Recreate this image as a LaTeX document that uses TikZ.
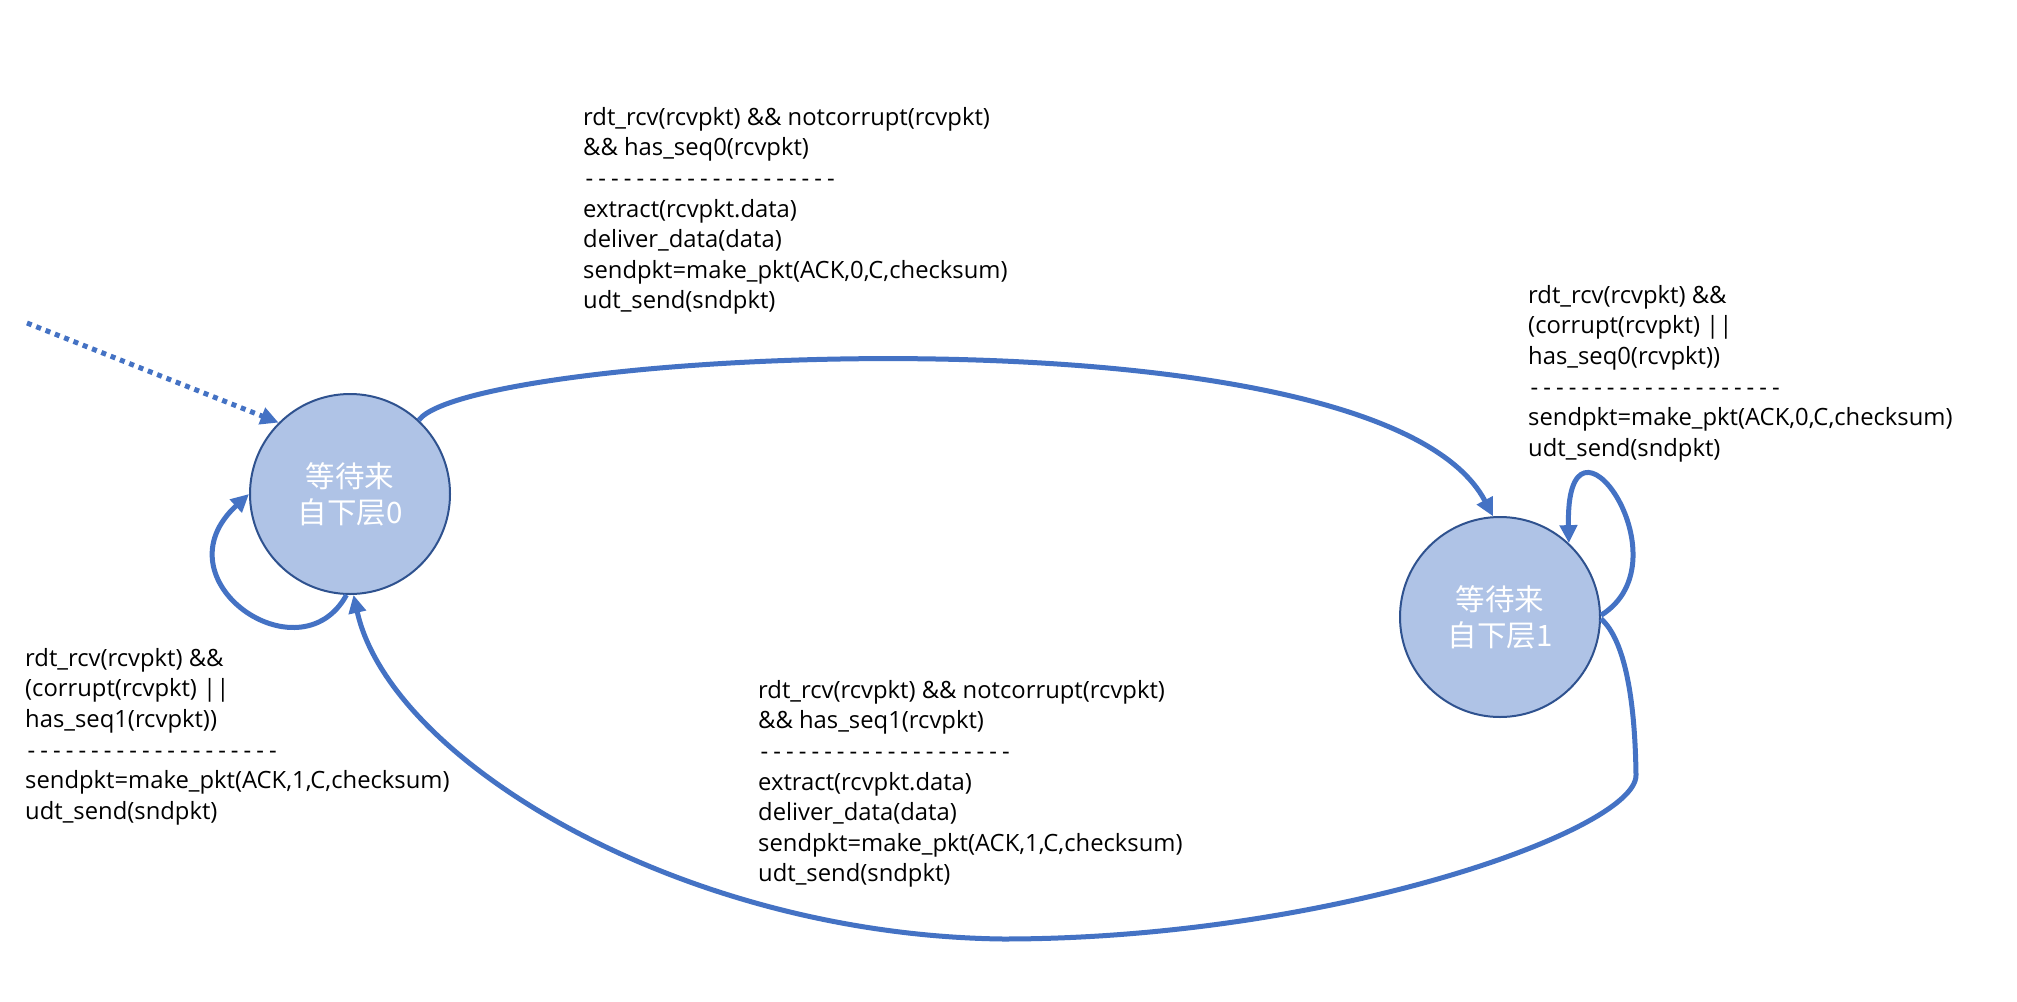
\documentclass[tikz,border=0pt]{standalone}
\usepackage{fontspec}
\setmainfont{Open Sans}
\newfontfamily\cjk{Noto Sans CJK SC}
\usetikzlibrary{arrows.meta}
\definecolor{arrowblue}{HTML}{4472C4}
\definecolor{statefill}{HTML}{AFC3E6}
\definecolor{stateline}{HTML}{2F528F}
\newcommand\onedash{\makebox[12.7pt][c]{-}}
\newcommand\dashrow{\onedash\onedash\onedash\onedash\onedash\onedash\onedash\onedash\onedash\onedash\onedash\onedash\onedash\onedash\onedash\onedash\onedash\onedash\onedash\onedash}
\begin{document}
\begin{tikzpicture}[x=1pt,y=-1pt,
  state/.style={circle,minimum size=200pt,inner sep=0pt,fill=statefill,draw=stateline,line width=2pt,text=white,font=\cjk\fontsize{29.5pt}{36pt}\selectfont,align=center},
  trans/.style={draw=arrowblue,line width=5pt,-{Triangle[length=18pt,width=17pt]}},
  initarrow/.style={draw=arrowblue,line width=5pt,dash pattern=on 5pt off 5pt,-{Triangle[length=18pt,width=17pt]}},
  lbl/.style={anchor=north west,inner sep=0pt,align=left,font=\fontsize{23.8pt}{30.6pt}\selectfont}
]
\useasboundingbox (0,0) rectangle (2017,1001);
\fill[white] (0,0) rectangle (2017,1001);

\node[state] (s0) at (350,494) {等待来\\自下层0};
\node[state] (s1) at (1500,617) {等待来\\自下层1};

\coordinate (init) at (27,323);
\draw[initarrow] (init) -- (s0.135);

% s0 -> s1
\draw[trans] (s0.47) .. controls (470,350) and (1380,300) .. (s1.94);
% s1 self loop
\draw[trans] (s1.1) .. controls (1690,560) and (1565,385) .. (s1.47);
% s0 self loop
\draw[trans] (s0.-92) .. controls (300,680) and (155,580) .. (s0.180);
% s1 -> s0
\draw[trans] (s1.-1) .. controls (1625,640) and (1635,700) .. (1636,775)
  .. controls (1637,830) and (1330,939) .. (1003,939)
  .. controls (680,935) and (390,760) .. (s0.-88);

\node[lbl] (t01) at (583,107) {rdt\_rcv(rcvpkt) \&\& notcorrupt(rcvpkt)\\
\&\& has\_seq0(rcvpkt)\\
\dashrow\\
extract(rcvpkt.data)\\
deliver\_data(data)\\
sendpkt=make\_pkt(ACK,0,C,checksum)\\
udt\_send(sndpkt)};

\node[lbl] (t11) at (1528,285) {rdt\_rcv(rcvpkt) \&\&\\
(corrupt(rcvpkt) ||\\
has\_seq0(rcvpkt))\\
\dashrow\\
sendpkt=make\_pkt(ACK,0,C,checksum)\\
udt\_send(sndpkt)};

\node[lbl] (t00) at (25,648) {rdt\_rcv(rcvpkt) \&\&\\
(corrupt(rcvpkt) ||\\
has\_seq1(rcvpkt))\\
\dashrow\\
sendpkt=make\_pkt(ACK,1,C,checksum)\\
udt\_send(sndpkt)};

\node[lbl] (t10) at (758,680) {rdt\_rcv(rcvpkt) \&\& notcorrupt(rcvpkt)\\
\&\& has\_seq1(rcvpkt)\\
\dashrow\\
extract(rcvpkt.data)\\
deliver\_data(data)\\
sendpkt=make\_pkt(ACK,1,C,checksum)\\
udt\_send(sndpkt)};
\end{tikzpicture}
\end{document}
